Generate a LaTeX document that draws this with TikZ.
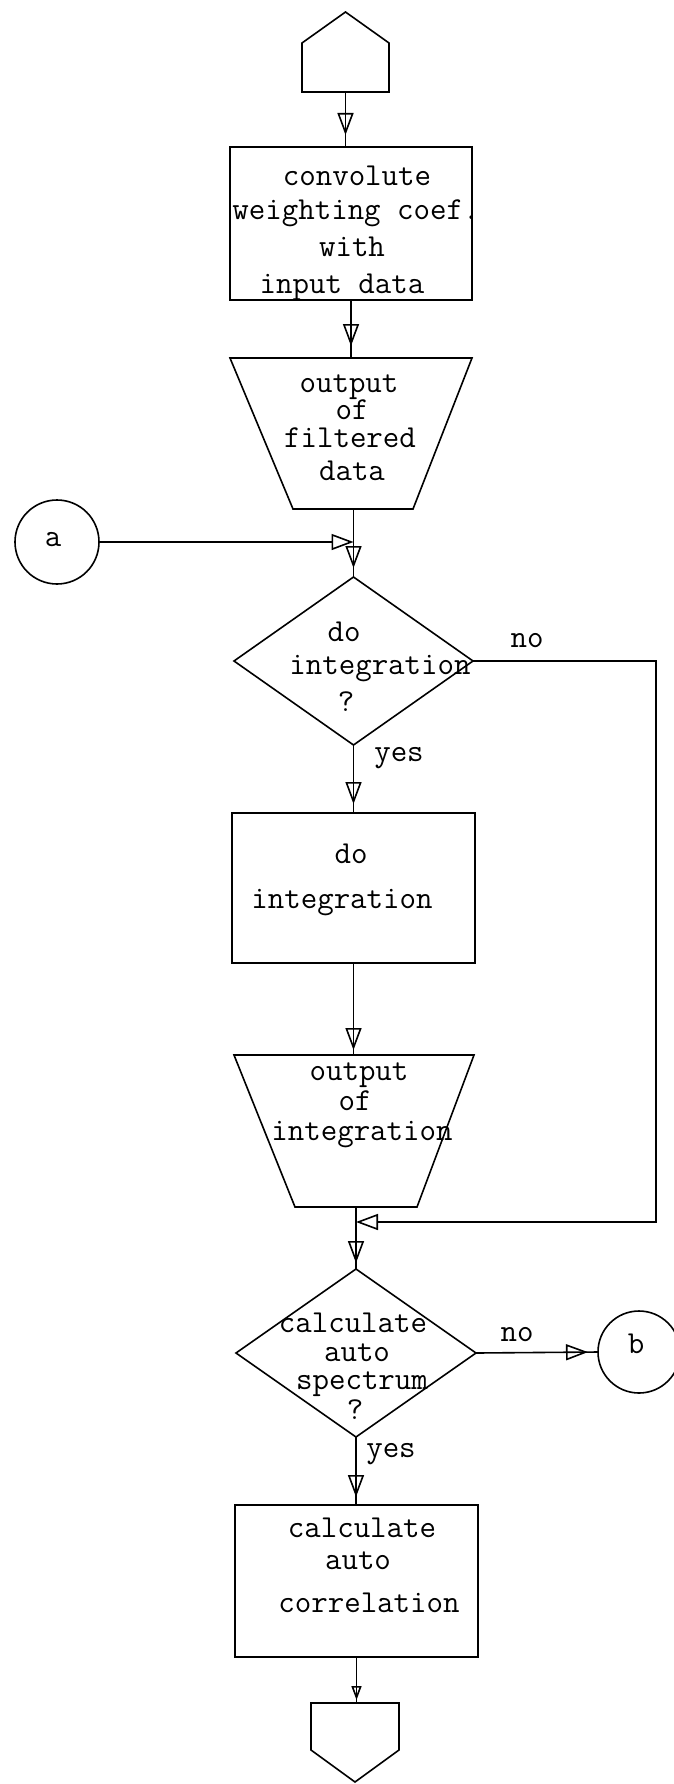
\documentclass[tikz,border=0pt]{standalone}
\usetikzlibrary{arrows.meta,decorations.markings,calc}
\begin{document}
\begin{tikzpicture}[x=1pt,y=-1pt,line width=1.6pt,
  every node/.style={inner sep=0pt,outer sep=0pt},
  ln/.style={draw=black,line width=1.6pt},
  lbl/.style={font=\ttfamily\fontsize{32}{35}\selectfont,text height=14pt,text depth=0pt,anchor=center},
  tipat/.style={postaction={decorate,decoration={markings,
      mark=at position -#1 with {\arrow{Triangle[open,length=22pt,width=16pt]}}}}},
  endtip/.style={-{Triangle[open,length=22pt,width=16pt]}},
]
\useasboundingbox (0,0) rectangle (674,1784);

% ---- shapes ----
\node[minimum width=87pt,minimum height=80pt] (st) at (345.5,52) {};
\draw[ln] (st.south west) -- (st.south east) -- ($(st.south east)+(0,-49)$)
  -- (st.north) -- ($(st.south west)+(0,-49)$) -- cycle;

\node[draw,minimum width=242pt,minimum height=153pt] (b1) at (351,223.5) {};

\node[minimum width=242pt,minimum height=151pt] (t1) at (351,433.5) {};
\draw[ln] (t1.north west) -- (t1.north east) -- ($(t1.south east)+(-59,0)$)
  -- ($(t1.south west)+(63,0)$) -- cycle;

\node[draw,circle,minimum size=84pt] (ca) at (57,542) {};
\coordinate (ja) at (353.5,542);

\node[minimum width=239pt,minimum height=168pt] (d1) at (353.5,661) {};
\draw[ln] (d1.north) -- (d1.east) -- (d1.south) -- (d1.west) -- cycle;

\node[draw,minimum width=243pt,minimum height=150pt] (b2) at (353.5,888) {};

\node[minimum width=240pt,minimum height=152pt] (t2) at (354,1131) {};
\draw[ln] (t2.north west) -- (t2.north east) -- ($(t2.south east)+(-57,0)$)
  -- ($(t2.south west)+(61,0)$) -- cycle;

\coordinate (jb) at (356,1222);
\coordinate (rt) at (656,659);
\coordinate (rb) at (656,1222);

\node[minimum width=240pt,minimum height=168pt] (d2) at (356,1353) {};
\draw[ln] (d2.north) -- (d2.east) -- (d2.south) -- (d2.west) -- cycle;

\node[draw,circle,minimum size=82pt] (cb) at (639,1352) {};

\node[draw,minimum width=243pt,minimum height=152pt] (b3) at (356.5,1581) {};

\node[minimum width=88pt,minimum height=79pt] (en) at (355,1742.5) {};
\draw[ln] (en.north west) -- (en.north east) -- ($(en.north east)+(0,47)$)
  -- (en.south) -- ($(en.north west)+(0,47)$) -- cycle;

% ---- connectors ----
\draw[ln,tipat=12pt] (st.south) -- (st.south |- b1.north);
\draw[ln,tipat=12pt] (b1.south) -- (b1.south |- t1.north);
\draw[ln] (t1.south -| ja) -- (ja);
\draw[ln,endtip] (ca.east) -- (ja);
\draw[ln,tipat=9pt] (ja) -- (d1.north);
\draw[ln,tipat=9pt] (d1.south) -- (d1.south |- b2.north);
\draw[ln,tipat=5pt] (b2.south) -- (b2.south |- t2.north);
\draw[ln] (t2.south -| jb) -- (jb);
\draw[ln,endtip] (d1.east) -- (d1.east -| rt) -- (rb) -- (jb);
\draw[ln,tipat=6pt] (jb) -- (d2.north);
\draw[ln,tipat=10pt] (d2.east) -- (cb.west);
\draw[ln,tipat=8pt] (d2.south) -- (d2.south |- b3.north);
\draw[ln,postaction={decorate,decoration={markings,
  mark=at position -3pt with {\arrow{Triangle[open,length=14pt,width=10pt]}}}}]
  (b3.south) -- (b3.south |- en.north);

% ---- texts ----
\node[lbl] (b1l1) at (357,179) {convolute};
\node[lbl] (b1l2) at (356,213) {weighting coef.};
\node[lbl] (b1l3) at (352,250) {with};
\node[lbl] (b1l4) at (342,287) {input data};

\node[lbl] (t1l1) at (349,385) {output};
\node[lbl] (t1l2) at (352,412) {of};
\node[lbl] (t1l3) at (350,440) {filtered};
\node[lbl] (t1l4) at (352,473) {data};

\node[lbl] (cal) at (53,539) {a};

\node[lbl] (d1l1) at (344,634) {do};
\node[lbl] (d1l2) at (380,667) {integration};
\node[lbl] (d1l3) at (346,704) {?};
\node[lbl] (no1) at (527,640) {no};
\node[lbl] (yes1) at (399,754) {yes};

\node[lbl] (b2l1) at (351,856) {do};
\node[lbl] (b2l2) at (342,901) {integration};

\node[lbl] (t2l1) at (359,1073) {output};
\node[lbl] (t2l2) at (355,1103) {of};
\node[lbl] (t2l3) at (362,1133) {integration};

\node[lbl] (d2l1) at (353,1325) {calculate};
\node[lbl] (d2l2) at (357,1354) {auto};
\node[lbl] (d2l3) at (362,1382) {spectrum};
\node[lbl] (d2l4) at (355,1412) {?};
\node[lbl] (no2) at (517,1334) {no};
\node[lbl] (yes2) at (391,1450) {yes};

\node[lbl] (cbl) at (636,1346) {b};

\node[lbl] (b3l1) at (362,1530) {calculate};
\node[lbl] (b3l2) at (358,1562) {auto};
\node[lbl] (b3l3) at (369,1605) {correlation};
\end{tikzpicture}
\end{document}
